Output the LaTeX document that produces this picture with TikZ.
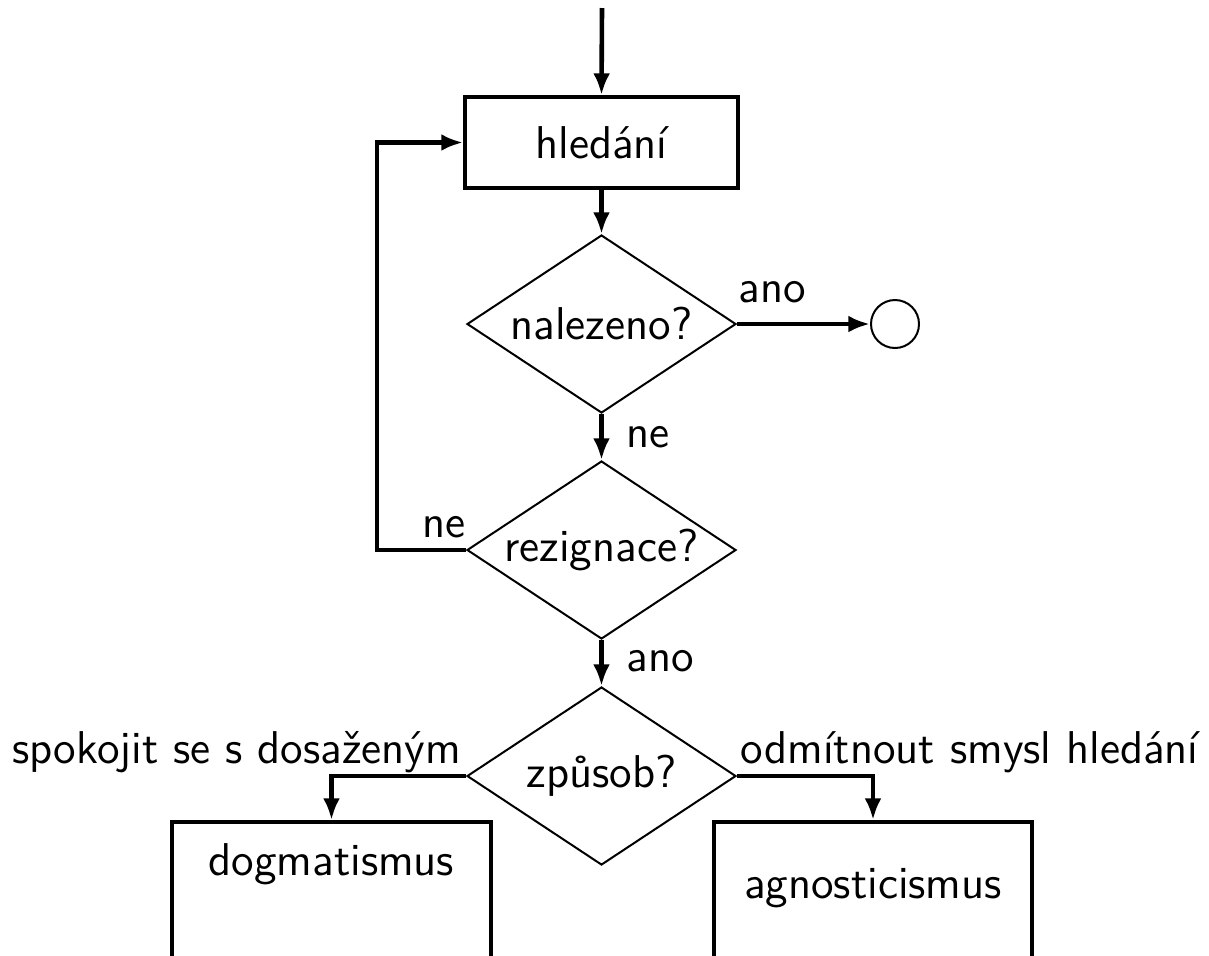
\documentclass[tikz,border=0pt]{standalone}
\usetikzlibrary{shapes.geometric,arrows.meta}
\begin{document}
\begin{tikzpicture}[x=0.25pt,y=-0.25pt,
  font=\sffamily\fontsize{11.5}{13.8}\selectfont,
  conn/.style={line width=1.15pt,-{Latex[length=5.4pt,width=4.2pt]}},
  procbox/.style={draw,line width=1pt,rectangle,inner sep=0pt},
  decision/.style={draw,line width=0.5pt,diamond,aspect=1.511,minimum width=67.25pt,minimum height=44.5pt,inner sep=0pt},
  endc/.style={draw,line width=0.5pt,circle,minimum size=12pt,inner sep=0pt},
  lbl/.style={inner sep=0pt}]
\useasboundingbox (0,0) rectangle (1209,955);
\clip (0,0) rectangle (1209,955);
\coordinate (start) at (602,8);
\node[procbox,minimum width=68.25pt,minimum height=22.75pt] (h) at (601.5,142.5) {hledání};
\node[decision] (d1) at (601.5,324) {nalezeno?};
\node[endc] (end) at (895,324) {};
\node[decision] (d2) at (601.5,550) {rezignace?};
\node[decision] (d3) at (601.5,776) {způsob?};
\node[procbox,anchor=north,minimum width=79.75pt,minimum height=60pt] (dog) at (331.5,820) {};
\node[procbox,anchor=north,minimum width=79.5pt,minimum height=60pt] (agn) at (873,820) {};
\node[lbl,anchor=base] (tdog) at (331.5,875) {dogmatismus};
\node[lbl,anchor=base] (tagn) at (873,898) {agnosticismus};
\coordinate (lp) at (377,300);
\draw[conn] (start) -- (h.north);
\draw[conn] (h.south) -- (d1.north);
\draw[conn] (d1.east) -- (end.west);
\draw[conn] (d1.south) -- (d2.north);
\draw[conn] (d2.west) -- (d2.west -| lp) -- (h.west -| lp) -- (h.west);
\draw[conn] (d2.south) -- (d3.north);
\draw[conn] (d3.west) -| (dog.north);
\draw[conn] (d3.east) -| (agn.north);
\node[lbl,anchor=base west] (l1) at (738,302) {ano};
\node[lbl,anchor=base west] (l2) at (626,447) {ne};
\node[lbl,anchor=base east] (l3) at (466,537) {ne};
\node[lbl,anchor=base west] (l4) at (626,671) {ano};
\node[lbl,anchor=base east] (l5) at (462,763) {spokojit se s dosaženým};
\node[lbl,anchor=base west] (l6) at (740,763) {odmítnout smysl hledání};
\end{tikzpicture}
\end{document}
